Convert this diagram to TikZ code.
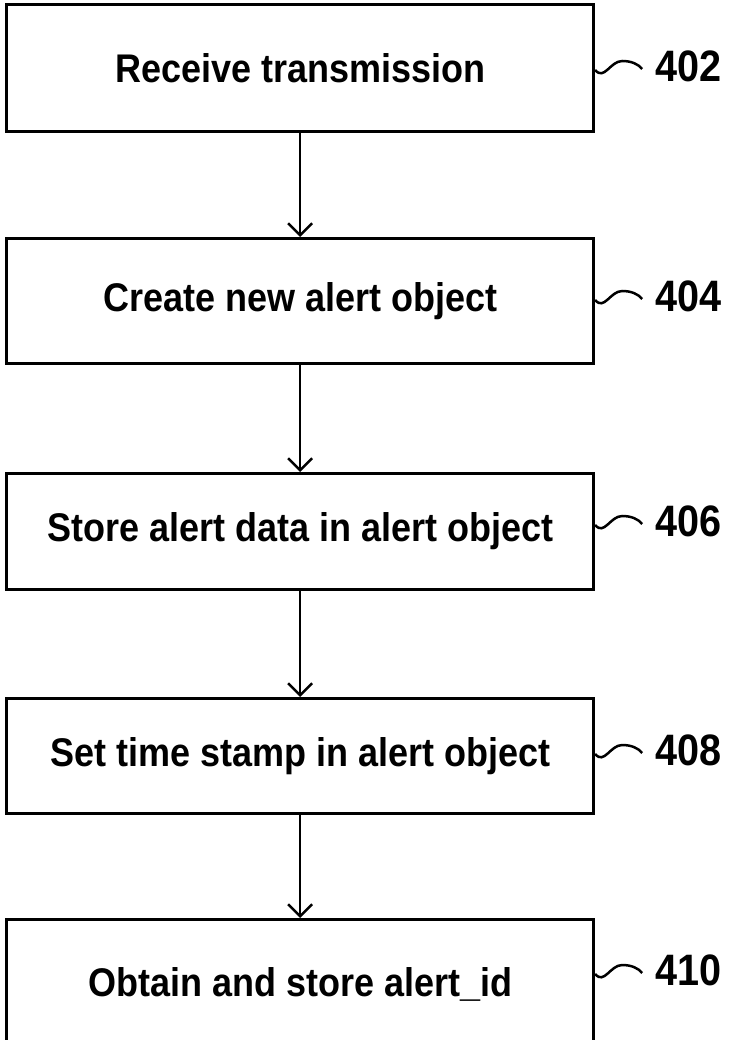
\documentclass[tikz,border=0pt]{standalone}
\usepackage{fontspec}
\setmainfont{Liberation Sans}[FakeStretch=0.9]
\usetikzlibrary{arrows.meta}
\begin{document}
\begin{tikzpicture}[x=1pt,y=-1pt,
  stepbox/.style={draw,line width=3.2pt,minimum width=587pt,inner sep=0pt,font=\fontsize{40}{44}\selectfont\bfseries,anchor=north west},
  flow/.style={line width=2.2pt,-{Straight Barb[length=12pt,width=24pt,line width=2.5pt]}},
  reflabel/.style={font=\fontsize{44}{46}\selectfont\bfseries,anchor=west},
  squig/.style={line width=2.5pt}]
\useasboundingbox (0,0) rectangle (732,1040);
\node[stepbox,minimum height=127pt] (b1) at (5,3) {Receive transmission};
\node[stepbox,minimum height=125pt] (b2) at (5,237) {Create new alert object};
\node[stepbox,minimum height=116pt] (b3) at (5,472) {Store alert data in alert object};
\node[stepbox,minimum height=115pt] (b4) at (5,697) {Set time stamp in alert object};
\node[stepbox,minimum height=130pt] (b5) at (5,918) {Obtain and store alert\_id};
\draw[flow] (b1.south) -- (b2.north);
\draw[flow] (b2.south) -- (b3.north);
\draw[flow] (b3.south) -- (b4.north);
\draw[flow] (b4.south) -- (b5.north);
\foreach \b/\t/\yy in {b1/402/70,b2/404/300,b3/406/525,b4/408/754,b5/410/974}{
  \coordinate (s\b) at (b1.east |- 0,\yy);
  \draw[squig] (s\b) .. controls ++(9,11) and ++(-12,0) .. ++(27,-9) coordinate (m\b)
     .. controls ++(9,0) and ++(-4,-5) .. ++(20,8) coordinate (e\b);
  \node[reflabel] (l\b) at ([xshift=10pt,yshift=3pt]e\b) {\t};
}
\end{tikzpicture}
\end{document}
